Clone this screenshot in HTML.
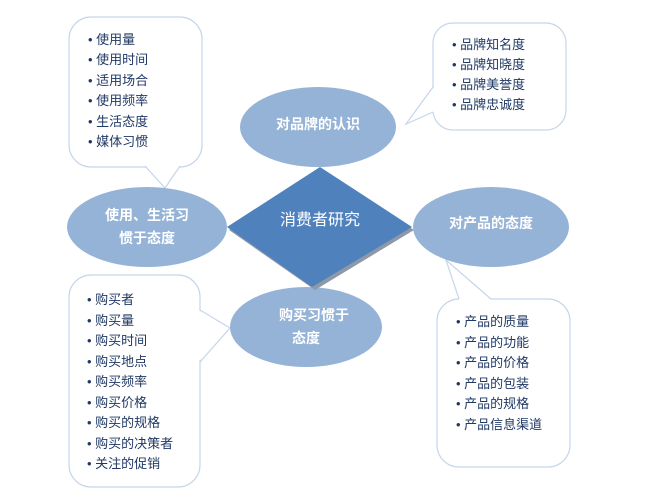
<!DOCTYPE html>
<html><head><meta charset="utf-8"><style>
html,body{margin:0;padding:0;background:#fff;}
svg{display:block;font-family:"Liberation Sans","Noto Sans CJK SC",sans-serif;}
.it{font-size:13px;fill:#1f3864;}
.el{font-size:14px;font-weight:bold;fill:#fff;}
</style></head><body>
<svg width="650" height="500" viewBox="0 0 650 500" xmlns="http://www.w3.org/2000/svg">
<g fill="#fff" stroke="#c6d6ea" stroke-width="1.2">
<rect x="69" y="17" width="133" height="150" rx="22"/>
<polygon points="145,165 180,165 165,188" stroke="none"/>
<polyline points="145,166 165,188 180,166" fill="none"/>
<rect x="433" y="23" width="133" height="107" rx="20"/>
<polygon points="434,87 434,112 406,124" stroke="none"/>
<polyline points="433,87 406,124 433,112" fill="none"/>
<rect x="69" y="275" width="131" height="212" rx="22"/>
<polygon points="198,310 198,362 230,328" stroke="none"/>
<polyline points="200,310 230,328 200,362" fill="none"/>
<rect x="437" y="299" width="133" height="168" rx="22"/>
<polygon points="459,300 491,300 446,260" stroke="none"/>
<polyline points="459,299 446,260 491,299" fill="none"/>
</g>
<g fill="#95b3d7">
<ellipse cx="318" cy="127" rx="78" ry="40"/>
<ellipse cx="147" cy="227" rx="80" ry="40"/>
<ellipse cx="491" cy="227" rx="78" ry="40"/>
<ellipse cx="306" cy="327" rx="76" ry="40"/>
</g>
<polygon points="321,170 414,230 315,290 229,230" fill="#8d99a8"/>
<polygon points="320,167 412,227 312,287 227,227" fill="#4f81bd"/>
<text x="320" y="225" font-size="16" fill="#fff" text-anchor="middle">消费者研究</text>
<g class="el" text-anchor="middle">
<text x="318" y="129">对品牌的认识</text>
<text x="147" y="220">使用、生活习</text>
<text x="147" y="243">惯于态度</text>
<text x="491" y="228">对产品的态度</text>
<text x="314" y="320">购买习惯于</text>
<text x="306" y="343">态度</text>
</g>
<g class="it">
<text x="88" y="44">• 使用量</text>
<text x="88" y="64">• 使用时间</text>
<text x="88" y="85">• 适用场合</text>
<text x="88" y="105">• 使用频率</text>
<text x="88" y="126">• 生活态度</text>
<text x="88" y="146">• 媒体习惯</text>

<text x="452" y="49">• 品牌知名度</text>
<text x="452" y="69">• 品牌知晓度</text>
<text x="452" y="89">• 品牌美誉度</text>
<text x="452" y="109">• 品牌忠诚度</text>

<text x="87" y="304">• 购买者</text>
<text x="87" y="325">• 购买量</text>
<text x="87" y="345">• 购买时间</text>
<text x="87" y="366">• 购买地点</text>
<text x="87" y="386">• 购买频率</text>
<text x="87" y="407">• 购买价格</text>
<text x="87" y="427">• 购买的规格</text>
<text x="87" y="448">• 购买的决策者</text>
<text x="87" y="468">• 关注的促销</text>

<text x="456" y="326">• 产品的质量</text>
<text x="456" y="347">• 产品的功能</text>
<text x="456" y="367">• 产品的价格</text>
<text x="456" y="388">• 产品的包装</text>
<text x="456" y="408">• 产品的规格</text>
<text x="456" y="429">• 产品信息渠道</text>
</g>
</svg>
</body></html>
